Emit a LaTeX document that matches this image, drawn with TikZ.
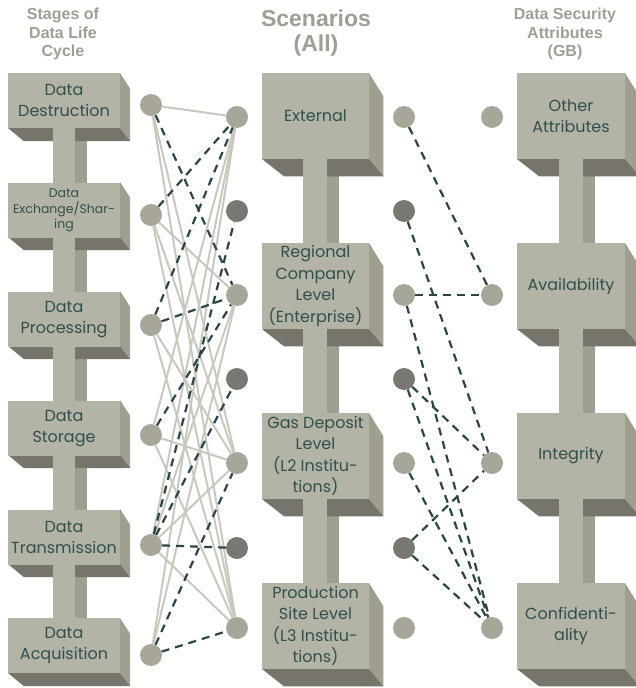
\documentclass[tikz,border=0pt]{standalone}
\usepackage{fontspec}
\setmainfont{Poppins}
\newfontfamily\headfont{Liberation Sans}
\usetikzlibrary{calc}

\definecolor{frontc}{HTML}{B3B3A6}
\definecolor{sidec}{HTML}{A09E8E}
\definecolor{bottomc}{HTML}{76746B}
\definecolor{textc}{HTML}{30504E}
\definecolor{headc}{HTML}{A09E92}
\definecolor{dotlight}{HTML}{A8A698}
\definecolor{dotdark}{HTML}{7A7770}
\definecolor{linkc}{HTML}{C9C8BD}
\definecolor{dashc}{HTML}{2A4646}

\tikzset{
  front/.style={fill=frontc, inner sep=0pt, text=textc, align=center,
    font=\fontsize{16}{21.5}\selectfont},
  dotl/.style={circle, fill=dotlight, minimum size=22pt, inner sep=0pt},
  dotd/.style={circle, fill=dotdark, minimum size=22pt, inner sep=0pt},
  link/.style={draw=linkc, line width=2pt},
  dlink/.style={draw=dashc, line width=2.2pt, dash pattern=on 8pt off 6pt},
  head/.style={text=headc, font=\headfont\bfseries\fontsize{16}{18.5}\selectfont, align=center},
  stagebox/.style={front, minimum width=112pt, minimum height=55pt},
  scenbox/.style={front, minimum width=107pt, minimum height=86pt},
  attrbox/.style={front, minimum width=108pt, minimum height=86pt},
}

% side and bottom faces of a block, extruded towards a vanishing point
% #1 name, #2 cx, #3 cy, #4 width, #5 height, #6 depth factor
\newcommand{\blockfaces}[6]{%
  \coordinate (#1vp) at (#2+260,#3+290);
  \coordinate (#1tr) at (#2+#4/2,#3-#5/2);
  \coordinate (#1br) at (#2+#4/2,#3+#5/2);
  \coordinate (#1bl) at (#2-#4/2,#3+#5/2);
  \fill[sidec] (#1tr) -- (#1br) -- ($(#1br)!#6!(#1vp)$) -- ($(#1tr)!#6!(#1vp)$) -- cycle;
  \fill[bottomc] (#1bl) -- (#1br) -- ($(#1br)!#6!(#1vp)$) -- ($(#1bl)!#6!(#1vp)$) -- cycle;
}

\begin{document}
\begin{tikzpicture}[x=1pt,y=-1pt]
\useasboundingbox (0,0) rectangle (635,688);

% headers
\node[head] (h1) at (63,34) {Stages of\\Data Life\\Cycle};
\node[head, font=\headfont\bfseries\fontsize{23}{25}\selectfont] (h2) at (316,33) {Scenarios\\(All)};
\node[head] (h3) at (565,34) {Data Security\\Attributes\\(GB)};

% stem side faces
\fill[sidec] (75,128) rectangle (87,640);
\fill[sidec] (327,159) rectangle (339,600);
\fill[sidec] (583,159) rectangle (595,600);

% block faces
\foreach \i/\y in {1/100.5,2/209.5,3/318.5,4/427.5,5/536.5,6/645.5}
  {\blockfaces{a\i}{64}{\y}{112}{55}{0.05}}
\foreach \i/\y in {1/116,2/286,3/456,4/626}
  {\blockfaces{b\i}{315.5}{\y}{107}{86}{0.07}
   \blockfaces{c\i}{571}{\y}{108}{86}{0.07}}

% stem fronts
\fill[frontc] (53,128) rectangle (75,618);
\fill[frontc] (303,159) rectangle (327,583);
\fill[frontc] (559,159) rectangle (583,583);

% lifecycle stages
\node[stagebox] (s1) at (64,100.5) {Data\\Destruction};
\node[stagebox, font=\fontsize{12.5}{15.5}\selectfont] (s2) at (64,210.5) {Data\\Exchange/Shar-\\ing};
\node[stagebox] (s3) at (64,319.5) {Data\\Processing};
\node[stagebox] (s4) at (64,428.5) {Data\\Storage};
\node[stagebox] (s5) at (64,537.5) {Data\\Transmission};
\node[stagebox] (s6) at (64,645.5) {Data\\Acquisition};

% scenarios
\node[scenbox] (m1) at (315.5,116) {External};
\node[scenbox] (m2) at (315.5,286) {Regional\\Company\\Level\\(Enterprise)};
\node[scenbox] (m3) at (315.5,456) {Gas Deposit\\Level\\(L2 Institu-\\tions)};
\node[scenbox] (m4) at (315.5,626) {Production\\Site Level\\(L3 Institu-\\tions)};

% security attributes
\node[attrbox] (g1) at (571,116) {Other\\Attributes};
\node[attrbox] (g2) at (571,286) {Availability};
\node[attrbox] (g3) at (571,456) {Integrity};
\node[attrbox] (g4) at (571,626) {Confidenti-\\ality};

% connection dots
\foreach \i/\y in {1/105,2/215,3/325,4/435,5/545,6/655}
  \node[dotl] (L\i) at (151,\y) {};
\foreach \i/\y/\s in {1/117/dotl,2/211/dotd,3/295/dotl,4/379/dotd,5/463/dotl,6/548/dotd,7/628/dotl}
  {\node[\s] (R\i) at (237,\y) {};
   \node[\s] (C\i) at (404,\y) {};}
\foreach \i/\y in {1/117,2/295,3/463,4/628}
  \node[dotl] (D\i) at (492,\y) {};

% stage to scenario links
\foreach \a/\b in {1/1,1/5,1/7,2/3,2/5,2/7,3/5,3/7,4/1,4/5,4/7,5/1,5/3,5/5,5/7,6/1,6/3}
  \draw[link] (L\a) -- (R\b);
\foreach \a/\b in {1/3,2/1,3/1,3/3,4/3,5/2,5/4,5/6,6/5,6/7}
  \draw[dlink] (L\a) -- (R\b);

% scenario to attribute links
\foreach \a/\b in {1/2,3/2,2/3,4/3,6/3,3/4,4/4,5/4,6/4}
  \draw[dlink] (C\a) -- (D\b);
\end{tikzpicture}
\end{document}
